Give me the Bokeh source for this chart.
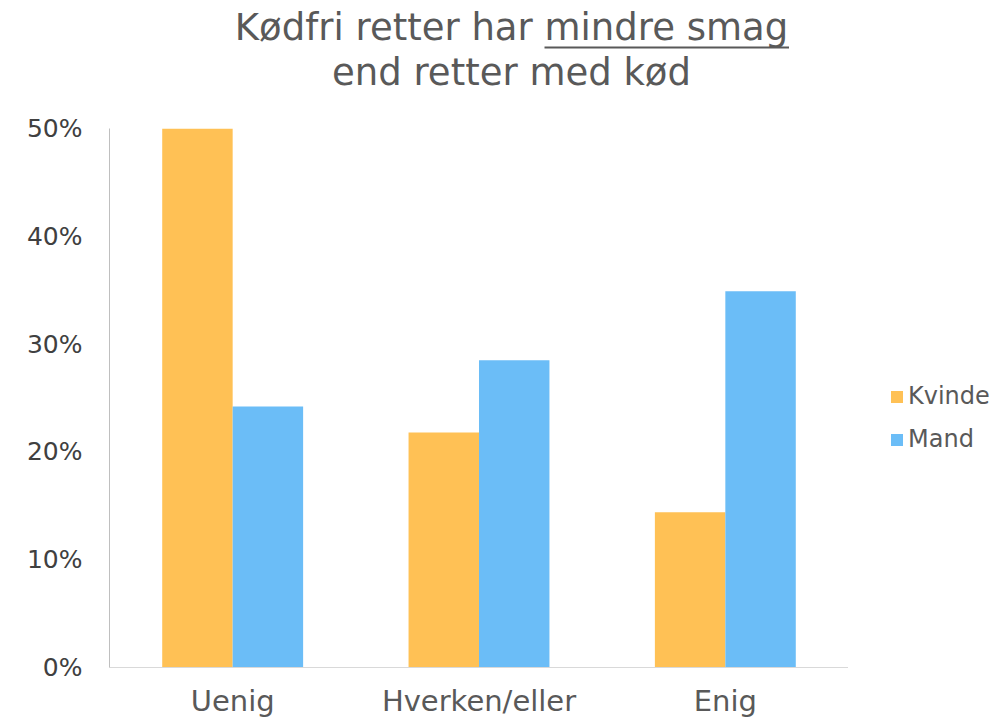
from bokeh.plotting import figure
from bokeh.layouts import column, row
from bokeh.models import (FactorRange, ColumnDataSource, Legend, LegendItem,
                          NumeralTickFormatter, FixedTicker, Range1d)
from bokeh.core.properties import value
from bokeh.transform import dodge
from bokeh.embed import file_html
from bokeh.resources import INLINE

categories = ["Uenig", "Hverken/eller", "Enig"]
kvinde = [0.50, 0.218, 0.144]
mand = [0.242, 0.285, 0.349]
y_ticks = [0, 0.1, 0.2, 0.3, 0.4, 0.5]
series_names = ["Kvinde", "Mand"]
colors = ["#FFC155", "#6BBDF7"]
title_lines = ["Kødfri retter har mindre smag", "end retter med kød"]
underlined = "mindre smag"

FONT = "DejaVu Sans"
TXT = "#595959"
TITLE_PX = 37

# ---------------- title strip ----------------
tf = figure(width=1000, height=100, x_range=Range1d(0, 1000), y_range=Range1d(100, 0),
            output_backend="svg", toolbar_location=None, min_border=0,
            x_axis_type=None, y_axis_type=None)
tf.outline_line_color = None
tf.xgrid.grid_line_color = None
tf.ygrid.grid_line_color = None
tf.text(x=[511, 511], y=[27, 72], text=title_lines, text_align="center",
        text_baseline="alphabetic", text_font=value(FONT),
        text_font_size=f"{TITLE_PX}px", text_color=TXT)

# approximate DejaVu Sans advance widths (em) to place the underline
_adv = {"K": .656, "ø": .612, "d": .635, "f": .352, "r": .411, "i": .278, " ": .318,
        "e": .615, "t": .392, "h": .634, "a": .613, "m": .974, "n": .634, "s": .521,
        "g": .635}
line_w = sum(_adv.get(c, .6) for c in title_lines[0]) * TITLE_PX
und_w = sum(_adv.get(c, .6) for c in underlined) * TITLE_PX
u1 = 511 + line_w / 2
u0 = u1 - und_w
tf.segment(x0=[u0], y0=[47], x1=[u1], y1=[47], line_color=TXT, line_width=2)

# ---------------- chart ----------------
src = ColumnDataSource(dict(cat=categories, kvinde=kvinde, mand=mand))
p = figure(x_range=FactorRange(*categories, range_padding=0), y_range=(0, 0.5),
           width=848, height=620, output_backend="svg", toolbar_location=None,
           min_border_left=109, min_border_right=0, min_border_top=28,
           min_border_bottom=52)

p.vbar(x=dodge("cat", -0.143, range=p.x_range), top="kvinde", width=0.286,
       source=src, color=colors[0], line_color=None)
p.vbar(x=dodge("cat", 0.143, range=p.x_range), top="mand", width=0.286,
       source=src, color=colors[1], line_color=None)

p.xgrid.grid_line_color = None
p.ygrid.grid_line_color = None
p.outline_line_color = None

p.yaxis.ticker = FixedTicker(ticks=y_ticks)
p.yaxis.formatter = NumeralTickFormatter(format="0%")
p.yaxis.major_tick_line_color = None
p.yaxis.minor_tick_line_color = None
p.yaxis.axis_line_color = "#BFBFBF"
p.yaxis.major_label_text_font = FONT
p.yaxis.major_label_text_font_size = "25px"
p.yaxis.major_label_text_color = "#404040"
p.yaxis.major_label_standoff = 21

p.xaxis.major_tick_line_color = None
p.xaxis.minor_tick_line_color = None
p.xaxis.axis_line_color = "#D9D9D9"
p.xaxis.major_label_text_font = FONT
p.xaxis.major_label_text_font_size = "29px"
p.xaxis.major_label_text_color = TXT
p.xaxis.major_label_standoff = 10

# ---------------- legend strip ----------------
lf = figure(width=152, height=620, x_range=Range1d(0, 1), y_range=Range1d(0, 1),
            output_backend="svg", toolbar_location=None, min_border=0,
            x_axis_type=None, y_axis_type=None)
lf.outline_line_color = None
lf.xgrid.grid_line_color = None
lf.ygrid.grid_line_color = None
# legend proxies (kept outside the visible range of this strip)
lr1 = lf.vbar(x=[5], top=[0], width=0.1, color=colors[0], line_color=None)
lr2 = lf.vbar(x=[5], top=[0], width=0.1, color=colors[1], line_color=None)
legend = Legend(items=[LegendItem(label=series_names[0], renderers=[lr1]),
                       LegendItem(label=series_names[1], renderers=[lr2])],
                location=(41, 214), glyph_width=15, glyph_height=15,
                label_text_font=FONT, label_text_font_size="24px",
                label_text_color=TXT, spacing=15, label_standoff=4,
                border_line_color=None, background_fill_alpha=0,
                padding=0, margin=0)
lf.add_layout(legend, "center")

layout = column(tf, row(p, lf, spacing=0), spacing=0)
open("out.html", "w").write(file_html(layout, INLINE))
